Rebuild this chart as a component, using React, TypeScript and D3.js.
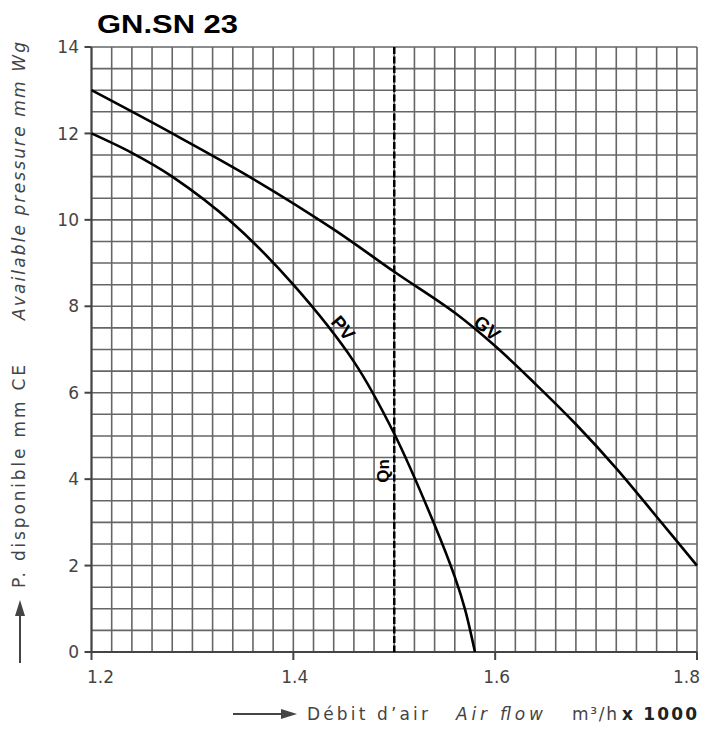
import React, { useEffect, useRef } from 'react';
import * as d3 from 'd3';

// curve readings (air flow in m3/h x 1000, pressure in mm)
const gvFlow = [1.2, 1.28, 1.36, 1.44, 1.5, 1.56, 1.6, 1.64, 1.68, 1.72, 1.76, 1.8];
const gvPressure = [13.0, 12.0, 10.95, 9.78, 8.8, 7.85, 7.08, 6.2, 5.27, 4.25, 3.13, 2.0];

const pvFlow = [1.2, 1.24, 1.28, 1.34, 1.4, 1.46, 1.5, 1.54, 1.56, 1.57, 1.58];
const pvPressure = [12.0, 11.55, 11.0, 9.92, 8.5, 6.72, 5.05, 2.94, 1.74, 1.0, 0];

const xTicks = [1.2, 1.4, 1.6, 1.8];
const yTicks = [0, 2, 4, 6, 8, 10, 12, 14];
const nominalFlow = 1.5;

const Chart = () => {
  const svgRef = useRef<SVGSVGElement>(null);

  useEffect(() => {
    if (!svgRef.current) return;
    const svg = d3.select(svgRef.current);
    svg.selectAll('*').remove();

    const left = 91.5;
    const right = 697;
    const top = 47;
    const bottom = 652;

    const x = d3.scaleLinear().domain([1.2, 1.8]).range([left, right]);
    const y = d3.scaleLinear().domain([0, 14]).range([bottom, top]);

    const font = '"DejaVu Sans", sans-serif';

    // title
    svg.append('text')
      .attr('x', 97)
      .attr('y', 33)
      .attr('font-family', '"Liberation Sans", Arial, sans-serif')
      .attr('font-weight', 'bold')
      .attr('font-size', 25)
      .attr('textLength', 141)
      .attr('lengthAdjust', 'spacingAndGlyphs')
      .attr('fill', '#000')
      .text('GN.SN 23');

    // grid: 0.02 steps across, 0.5 steps up
    const grid = svg.append('g');
    d3.range(0, 31).forEach(i => {
      const v = 1.2 + i * 0.02;
      grid.append('line')
        .attr('x1', x(v)).attr('x2', x(v))
        .attr('y1', top).attr('y2', bottom)
        .attr('stroke', '#666').attr('stroke-width', 1.6);
    });
    d3.range(0, 29).forEach(i => {
      const v = i * 0.5;
      grid.append('line')
        .attr('x1', left).attr('x2', right)
        .attr('y1', y(v)).attr('y2', y(v))
        .attr('stroke', '#666').attr('stroke-width', 1.6);
    });

    // axes
    svg.append('line')
      .attr('x1', left).attr('x2', left).attr('y1', top).attr('y2', bottom)
      .attr('stroke', '#444').attr('stroke-width', 2);
    svg.append('line')
      .attr('x1', left).attr('x2', right).attr('y1', bottom).attr('y2', bottom)
      .attr('stroke', '#444').attr('stroke-width', 2);

    yTicks.forEach(t => {
      svg.append('line')
        .attr('x1', left - 7).attr('x2', left).attr('y1', y(t)).attr('y2', y(t))
        .attr('stroke', '#444').attr('stroke-width', 2);
      svg.append('text')
        .attr('x', 79).attr('y', y(t))
        .attr('dy', '0.36em')
        .attr('text-anchor', 'end')
        .attr('font-family', font).attr('font-size', 17)
        .attr('fill', '#444')
        .text(t);
    });

    xTicks.forEach((t, i) => {
      svg.append('line')
        .attr('x1', x(t)).attr('x2', x(t)).attr('y1', bottom).attr('y2', bottom + 8)
        .attr('stroke', '#444').attr('stroke-width', 2);
      const anchor = i === 0 ? 'start' : i === xTicks.length - 1 ? 'end' : 'middle';
      const dx = i === 0 ? -4.5 : i === xTicks.length - 1 ? 3 : 1.5;
      svg.append('text')
        .attr('x', x(t) + dx).attr('y', 683)
        .attr('text-anchor', anchor)
        .attr('font-family', font).attr('font-size', 17)
        .attr('fill', '#444')
        .text(t.toFixed(1));
    });

    // nominal flow line
    svg.append('line')
      .attr('x1', x(nominalFlow)).attr('x2', x(nominalFlow))
      .attr('y1', top).attr('y2', bottom)
      .attr('stroke', '#000').attr('stroke-width', 2.5)
      .attr('stroke-dasharray', '7,2.5');

    // curves
    const line = d3.line<[number, number]>()
      .x(d => x(d[0]))
      .y(d => y(d[1]))
      .curve(d3.curveCatmullRom.alpha(0.5));

    const gv = gvFlow.map((f, i) => [f, gvPressure[i]] as [number, number]);
    const pv = pvFlow.map((f, i) => [f, pvPressure[i]] as [number, number]);

    [gv, pv].forEach(pts => {
      svg.append('path')
        .attr('d', line(pts))
        .attr('fill', 'none')
        .attr('stroke', '#000')
        .attr('stroke-width', 2.6);
    });

    // curve labels
    const curveLabel = (txt: string, cx: number, cy: number, angle: number, size: number) => {
      svg.append('text')
        .attr('transform', `translate(${cx},${cy}) rotate(${angle})`)
        .attr('text-anchor', 'middle')
        .attr('dominant-baseline', 'central')
        .attr('font-family', '"Liberation Sans", Arial, sans-serif')
        .attr('font-weight', 'bold')
        .attr('font-size', size)
        .attr('fill', '#000')
        .text(txt);
    };
    curveLabel('PV', 343, 328, 50, 19);
    curveLabel('GV', 487, 328, 40, 19);
    curveLabel('Qn', 383, 471, -90, 17);

    // y axis title
    const yt = svg.append('g').attr('transform', 'translate(25,588) rotate(-90)');
    yt.append('text')
      .attr('x', 0).attr('y', 0)
      .attr('font-family', font).attr('font-size', 17)
      .attr('fill', '#444')
      .attr('textLength', 223).attr('lengthAdjust', 'spacing')
      .text('P. disponible mm CE');
    yt.append('text')
      .attr('x', 268).attr('y', 0)
      .attr('font-family', font).attr('font-size', 17)
      .attr('font-style', 'italic')
      .attr('fill', '#444')
      .attr('textLength', 278).attr('lengthAdjust', 'spacing')
      .text('Available pressure mm Wg');

    // y arrow
    svg.append('line')
      .attr('x1', 20).attr('x2', 20).attr('y1', 663).attr('y2', 612)
      .attr('stroke', '#444').attr('stroke-width', 2);
    svg.append('path')
      .attr('d', 'M20,600 L15,616 L25,616 Z')
      .attr('fill', '#444');

    // x axis title
    svg.append('line')
      .attr('x1', 233).attr('x2', 284).attr('y1', 714).attr('y2', 714)
      .attr('stroke', '#444').attr('stroke-width', 2);
    svg.append('path')
      .attr('d', 'M297,714 L281,709 L281,719 Z')
      .attr('fill', '#444');

    const xt = (txt: string, x0: number, len: number, style: string, weight: string) => {
      svg.append('text')
        .attr('x', x0).attr('y', 720)
        .attr('font-family', font).attr('font-size', 17)
        .attr('font-style', style).attr('font-weight', weight)
        .attr('fill', weight === 'bold' ? '#222' : '#444')
        .attr('textLength', len).attr('lengthAdjust', 'spacing')
        .text(txt);
    };
    xt('Débit d’air', 307, 121, 'normal', 'normal');
    xt('Air flow', 456, 87, 'italic', 'normal');
    xt('m³/h', 572, 45, 'normal', 'normal');
    xt('x 1000', 622, 75, 'normal', 'bold');
  }, []);

  return (
    <svg
      ref={svgRef}
      width={701}
      height={731}
      style={{ position: 'absolute', left: 0, top: 0, background: '#fff' }}
    />
  );
};

export default function App() {
  return <Chart />;
}
